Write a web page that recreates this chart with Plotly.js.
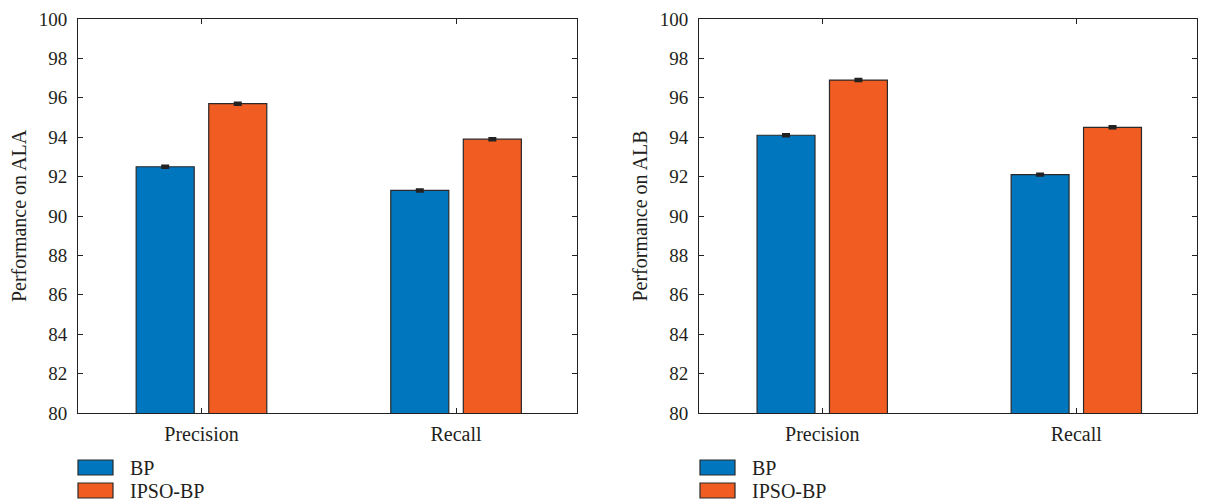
<!DOCTYPE html>
<html>
<head>
<meta charset="utf-8">
<script src="https://cdn.plot.ly/plotly-3.0.1.min.js"></script>
<style>html,body{margin:0;padding:0;background:#fff;}#chart{width:1207px;height:503px;}</style>
</head>
<body>
<div id="chart"></div>
<script>
const categories = ["Precision", "Recall"];
const seriesNames = ["BP", "IPSO-BP"];
const alaBP = [92.5, 91.3];
const alaIPSO = [95.7, 93.9];
const albBP = [94.1, 92.1];
const albIPSO = [96.9, 94.5];
const errBP_ALA = [0.05, 0.05];
const errIPSO_ALA = [0.05, 0.05];
const errBP_ALB = [0.05, 0.05];
const errIPSO_ALB = [0.05, 0.05];
const yTickVals = [80, 82, 84, 86, 88, 90, 92, 94, 96, 98, 100];
const yTitles = ["Performance on ALA", "Performance on ALB"];

const colors = ["#0076BF", "#F15C22"];
const FONT = "Liberation Serif";
const FS = 19, FS2 = 20;
const TXT = "#231f20";
const xIdx = categories.map((_, i) => i);

function barTrace(y, err, k, xa, ya) {
  return {
    type: "bar", x: xIdx, y: y, name: seriesNames[k], xaxis: xa, yaxis: ya,
    marker: {color: colors[k], line: {color: "#2a2a2a", width: 1.2}},
    error_y: {type: "data", array: err, visible: true, color: "#222", thickness: 2.5, width: 4},
    showlegend: false, hoverinfo: "skip"
  };
}

const data = [
  barTrace(alaBP, errBP_ALA, 0, "x", "y"),
  barTrace(alaIPSO, errIPSO_ALA, 1, "x", "y"),
  barTrace(albBP, errBP_ALB, 0, "x2", "y2"),
  barTrace(albIPSO, errIPSO_ALB, 1, "x2", "y2")
];

const W = 1207, H = 503;
const px = v => v / W, py = v => 1 - v / H;

function xAxis(dom) {
  return {
    domain: dom, range: [-0.485, 1.475], tickmode: "array", tickvals: xIdx, ticktext: categories,
    ticks: "inside", ticklen: 5, tickcolor: "#222", showline: true, linecolor: "#222", linewidth: 1,
    mirror: "ticks", showgrid: false, zeroline: false, fixedrange: true, ticklabelstandoff: 3,
    tickfont: {family: FONT, size: FS2, color: TXT}, automargin: false
  };
}
function yAxis(dom, title, anchor) {
  return {
    domain: dom, range: [80, 100], tickmode: "array", tickvals: yTickVals,
    ticks: "inside", ticklen: 5, tickcolor: "#222", showline: true, linecolor: "#222", linewidth: 1,
    mirror: "ticks", showgrid: false, zeroline: false, fixedrange: true, anchor: anchor,
    ticklabelstandoff: 6,
    tickfont: {family: FONT, size: FS, color: TXT}, automargin: false,
    title: {text: title, font: {family: FONT, size: FS2, color: TXT}, standoff: 6}
  };
}

const yDom = [py(413), py(19)];
const shapes = [], annotations = [];
function legendAt(x0) {
  [460, 483].forEach((yt, k) => {
    shapes.push({type: "rect", xref: "paper", yref: "paper", x0: px(x0), x1: px(x0 + 35),
      y0: py(yt + 15), y1: py(yt), fillcolor: colors[k], line: {color: "#2a2a2a", width: 1.2}});
    annotations.push({xref: "paper", yref: "paper", x: px(x0 + 50), y: py(yt + 7.5), text: seriesNames[k],
      showarrow: false, xanchor: "left", yanchor: "middle", font: {family: FONT, size: FS2, color: TXT}});
  });
}
legendAt(78);
legendAt(700);

const layout = {
  width: W, height: H, margin: {l: 0, r: 0, t: 0, b: 0},
  paper_bgcolor: "#fff", plot_bgcolor: "#fff",
  barmode: "group", bargap: 0.43, bargroupgap: 0.2,
  xaxis: xAxis([px(78), px(577)]), yaxis: yAxis(yDom, yTitles[0], "x"),
  xaxis2: xAxis([px(699), px(1197)]), yaxis2: yAxis(yDom, yTitles[1], "x2"),
  shapes: shapes, annotations: annotations, showlegend: false
};

Plotly.newPlot("chart", data, layout, {displayModeBar: false, staticPlot: true});
</script>
</body>
</html>
